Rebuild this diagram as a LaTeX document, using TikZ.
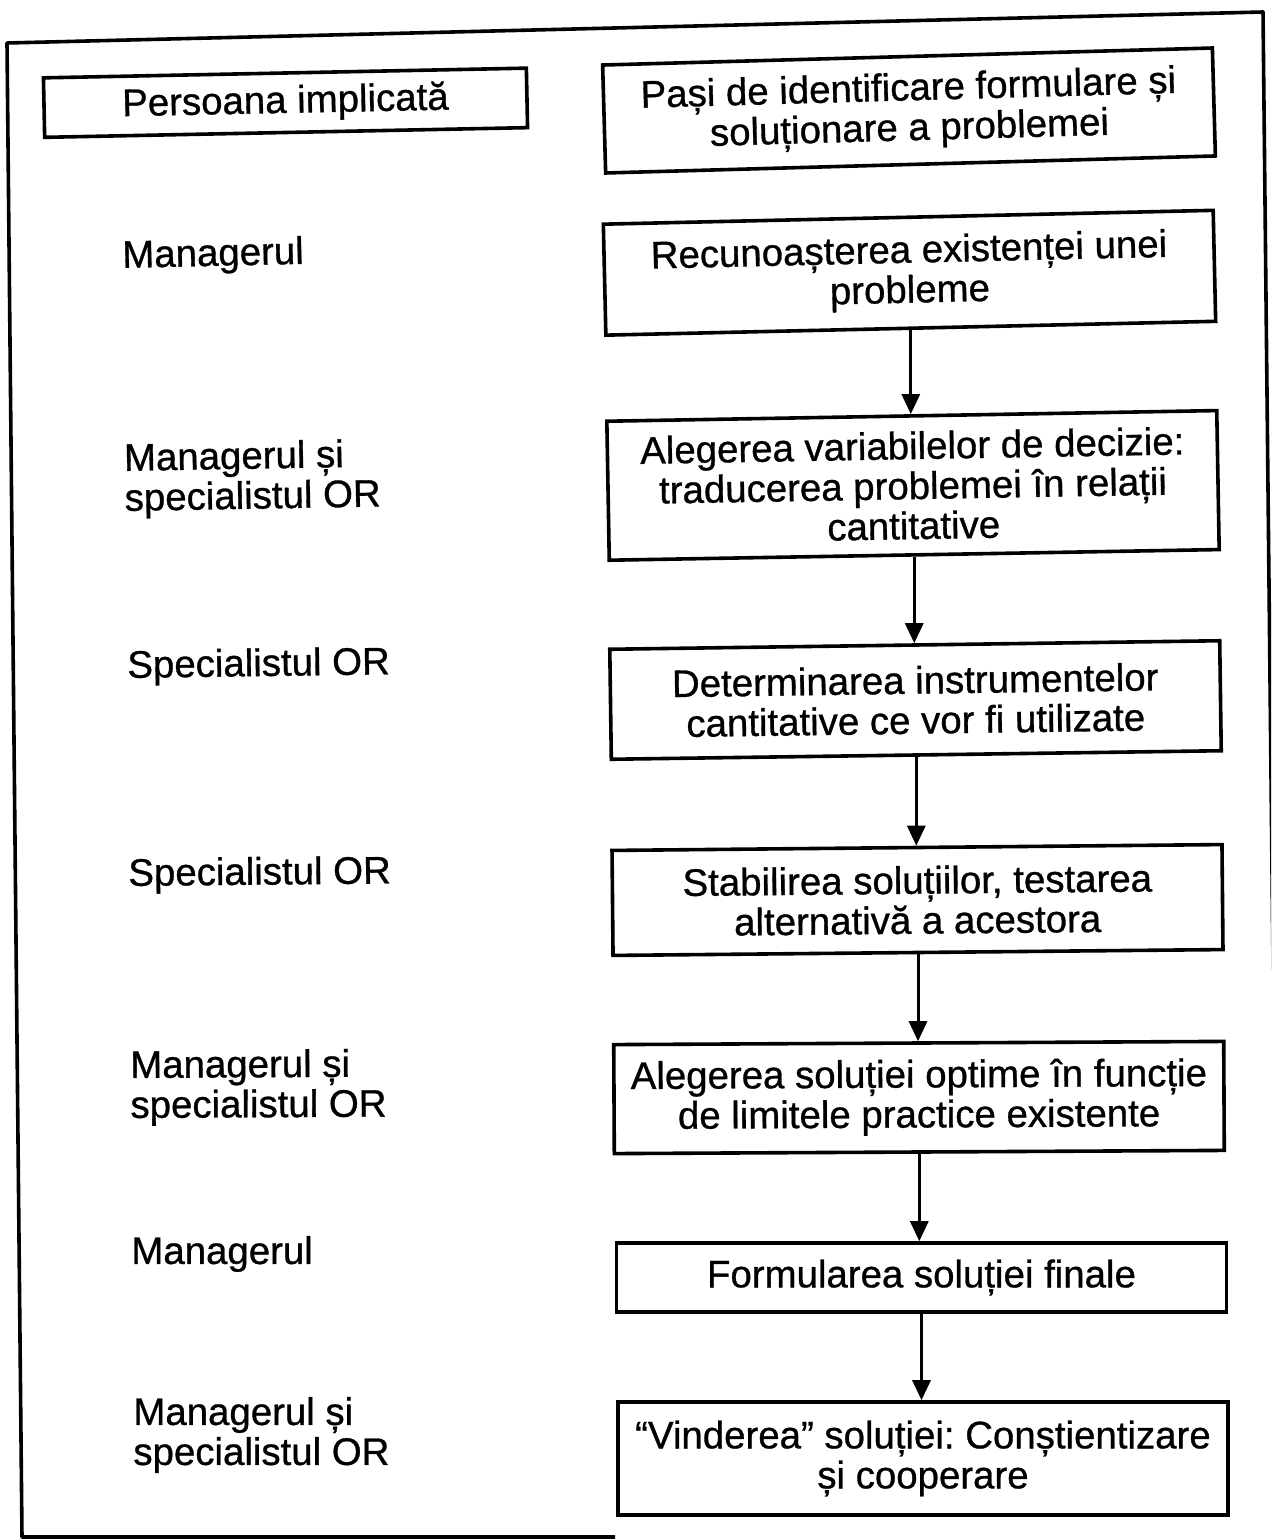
\documentclass[tikz,border=0pt]{standalone}
\usepackage{fontspec}
\setmainfont[FakeBold=0.8]{Liberation Sans}
\usetikzlibrary{arrows.meta}
\frenchspacing
\begin{document}
\begin{tikzpicture}[x=0.5pt,y=-0.5pt,
  every node/.style={font=\fontsize{19.2}{20}\selectfont, inner sep=0pt},
  tilt/.style={rotate=#1, transform shape},
  stepbox/.style={draw, line width=1.8pt, align=center, minimum width=305pt},
  who/.style={anchor=west, align=left},
  flow/.style={line width=1.5pt, -{Triangle[length=10pt,width=9pt]}},
  frame/.style={line width=1.8pt, line join=round}]
  \useasboundingbox (0,0) rectangle (1271,1540);
  \fill[white] (0,0) rectangle (1271,1540);
  \clip (0,0) rectangle (1271,1540);

  % outer frame (open at the lower right)
  \draw[frame] (615,1537) -- (22,1537) -- (7,43) -- (1263,12) -- (1279,1540);

  % column headers
  \node[stepbox, tilt=1.15, minimum width=241.5pt, minimum height=29.75pt] (hwho) at (285.5,102.75) {Persoana implicată};
  \node[stepbox, tilt=1.6, minimum height=54pt] (hstep) at (909,110.5) {Pași de identificare formulare și\\soluționare a problemei};

  % steps
  \node[stepbox, tilt=1.3, minimum height=55.5pt] (s1) at (909.5,272.75) {Recunoașterea existenței unei\\probleme};
  \node[stepbox, tilt=1.0, minimum height=69.5pt] (s2) at (913,485.4) {Alegerea variabilelor de decizie:\\traducerea problemei în relații\\cantitative};
  \node[stepbox, tilt=0.8, minimum height=55pt] (s3) at (915.5,700) {Determinarea instrumentelor\\cantitative ce vor fi utilizate};
  \node[stepbox, tilt=0.55, minimum height=52.5pt] (s4) at (917.5,900) {Stabilirea soluțiilor, testarea\\alternativă a acestora};
  \node[stepbox, tilt=0.3, minimum height=54.5pt] (s5) at (919,1097.5) {Alegerea soluției optime în funcție\\de limitele practice existente};
  \node[stepbox, minimum height=34.5pt] (s6) at (921.5,1277.5) {Formularea soluției finale};
  \node[stepbox, minimum height=56.5pt] (s7) at (923,1458.5) {“Vinderea” soluției: Conștientizare\\și cooperare};

  % persons in charge
  \node[who, tilt=1.3] (p1) at (122,258) {Managerul};
  \node[who, tilt=1.0] (p2) at (124,481) {Managerul și\\specialistul OR};
  \node[who, tilt=0.8] (p3) at (127,668) {Specialistul OR};
  \node[who, tilt=0.55] (p4) at (128,876) {Specialistul OR};
  \node[who, tilt=0.3] (p5) at (130,1088) {Managerul și\\specialistul OR};
  \node[who] (p6) at (131,1254) {Managerul};
  \node[who] (p7) at (133,1435) {Managerul și\\specialistul OR};

  % flow between steps
  \foreach \a/\b in {s1/s2,s2/s3,s3/s4,s4/s5,s5/s6,s6/s7}
    \draw[flow] (\a.south) -- (\a.south |- \b.north);
\end{tikzpicture}
\end{document}
